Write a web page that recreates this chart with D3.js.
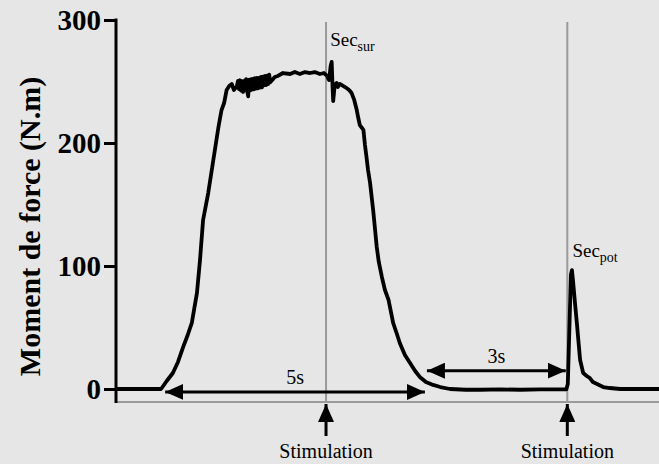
<!DOCTYPE html>
<html>
<head>
<meta charset="utf-8">
<script src="https://cdn.jsdelivr.net/npm/d3@7"></script>
<style>
  html, body { margin: 0; padding: 0; background: #e6e6e6; }
  svg { display: block; }
</style>
</head>
<body>
<svg id="chart" width="659" height="464"></svg>
<script>
// Torque trace: time (s) and moment de force (N.m)
const timeSec = [
  0, 0.88, 0.99, 1.11, 1.21, 1.31, 1.40, 1.48, 1.53, 1.58, 1.64, 1.70, 1.80, 1.90, 2.00, 2.06, 2.11, 2.16, 2.21, 2.26, 2.30, 2.36,
  2.38, 2.40, 2.42, 2.44, 2.46, 2.48, 2.50, 2.52, 2.54, 2.56, 2.58, 2.60, 2.62, 2.64, 2.65, 2.67, 2.69, 2.71, 2.73, 2.75,
  2.77, 2.79, 2.81, 2.83, 2.85, 2.87, 2.89, 2.91, 2.93, 2.95, 2.97, 2.99, 3.01,
  3.05, 3.10, 3.16, 3.26, 3.40, 3.49, 3.59, 3.69, 3.79, 3.88, 3.98, 4.06, 4.12, 4.16, 4.19, 4.21, 4.23, 4.24, 4.27,
  4.31, 4.33, 4.37, 4.44, 4.50, 4.55, 4.60, 4.65, 4.70, 4.73, 4.76, 4.83, 4.86, 4.89, 4.92, 4.96, 5.02, 5.09, 5.13,
  5.19, 5.25, 5.32, 5.41, 5.49, 5.54, 5.64, 5.74, 5.84, 5.93, 6.05, 6.19, 6.33, 6.52, 6.83, 7.11, 7.50, 7.89, 8.28, 8.79,
  8.82, 8.85, 8.88, 8.90, 8.92, 8.96, 9.00, 9.02, 9.06, 9.12, 9.19, 9.25, 9.31, 9.39, 9.51, 9.64, 9.84, 10.23, 10.60
];
const torque = [
  0, 0, 6.5, 13.0, 22.0, 34.1, 43.9, 53.7, 65.9, 78.0, 104.9, 137.4, 159.3, 186.2, 213.0, 226.8, 232.5, 243.1, 246.3, 248.0, 243.1, 246.3,
  250.4, 243.9, 251.0, 242.7, 250.2, 241.5, 250.4, 243.1, 252.0, 242.3, 238.0, 251.6, 242.7, 252.0, 243.5, 252.2, 243.7, 252.8, 244.3, 253.0,
  244.5, 253.0, 245.1, 253.8, 245.3, 254.0, 246.9, 254.6, 247.1, 254.8, 247.9, 255.6, 249.3,
  251.2, 253.7, 254.5, 256.9, 256.1, 257.7, 256.1, 257.7, 256.9, 257.7, 256.1, 256.9, 254.5, 251.2, 262.6, 265.9, 243.1, 234.1, 247.2,
  248.8, 245.5, 248.0, 246.3, 244.7, 243.1, 240.6, 235.0, 226.8, 220.3, 214.6, 210.6, 198.4, 188.6, 178.0, 167.5, 145.5, 115.4, 103.3,
  91.1, 80.5, 72.4, 53.7, 43.9, 37.4, 27.6, 21.1, 14.6, 9.8, 5.7, 3.3, 1.6, 0, -0.6, -0.6, -0.3, -0.6, -0.3, -0.3,
  4.1, 48.0, 92.7, 96.7, 88.6, 69.9, 52.0, 42.3, 23.6, 13.0, 10.6, 8.9, 5.7, 4.1, 1.6, 0.8, 0, 0, 0
];

// Y axis ticks
const yTicks = [0, 100, 200, 300];

// Stimulation times (s) and their peak labels
const stimTimes = [4.10, 8.81];
const stimLabels = ["Stimulation", "Stimulation"];
const peakLabels = [
  { base: "Sec", sub: "sur", t: 4.18, v: 279 },
  { base: "Sec", sub: "pot", t: 8.91, v: 107 }
];

// Duration arrows: start, end, level (N.m) and label
const spanStart = [0.96, 6.07];
const spanEnd = [6.03, 8.78];
const spanLevel = [-2.4, 14.9];
const spanLabels = ["5s", "3s"];

const SERIF = '"Liberation Serif", "Times New Roman", Times, serif';

const svg = d3.select("#chart");
const x = d3.scaleLinear().domain([0, 10.6]).range([116, 659]);
const y = d3.scaleLinear().domain([0, 300]).range([389, 20]);
const frameBottom = y(0) + 13;

// Arrowhead markers
const defs = svg.append("defs");
defs.append("marker")
  .attr("id", "head")
  .attr("viewBox", "0 0 18 16")
  .attr("refX", 18).attr("refY", 8)
  .attr("markerWidth", 18).attr("markerHeight", 16)
  .attr("markerUnits", "userSpaceOnUse")
  .attr("orient", "auto-start-reverse")
  .append("path").attr("d", "M0,0 L18,8 L0,16 Z").attr("fill", "#000");

// Bottom frame line (grey)
svg.append("line")
  .attr("x1", x(0)).attr("x2", 659)
  .attr("y1", frameBottom).attr("y2", frameBottom)
  .attr("stroke", "#9a9a9a").attr("stroke-width", 2);

// Grey vertical markers at stimulation
svg.selectAll(".stim-line").data(stimTimes).join("line")
  .attr("class", "stim-line")
  .attr("x1", d => x(d)).attr("x2", d => x(d))
  .attr("y1", y(300) + 2).attr("y2", frameBottom)
  .attr("stroke", "#9a9a9a").attr("stroke-width", 2);

// Torque trace
const line = d3.line().x((d, i) => x(timeSec[i])).y(d => y(d));
svg.append("path")
  .datum(torque)
  .attr("d", line)
  .attr("fill", "none")
  .attr("stroke", "#000")
  .attr("stroke-width", 3.8)
  .attr("stroke-linejoin", "round");

// Y axis
const yAxis = d3.axisLeft(y).tickValues(yTicks).tickSize(12).tickPadding(3).tickFormat(d3.format("d"));
const gy = svg.append("g").attr("transform", `translate(${x(0)},0)`).call(yAxis);
gy.select(".domain").remove();
gy.append("line")
  .attr("x1", 0).attr("x2", 0)
  .attr("y1", y(300) - 1.5).attr("y2", frameBottom + 1)
  .attr("stroke", "#000").attr("stroke-width", 3);
gy.selectAll(".tick line").attr("stroke", "#000").attr("stroke-width", 3);
gy.selectAll(".tick text")
  .style("font-family", SERIF)
  .style("font-weight", "bold")
  .style("font-size", "29px")
  .attr("dy", "0.34em")
  .attr("fill", "#000");

// Y axis title
svg.append("text")
  .attr("transform", `translate(40,${(y(300) + y(0)) / 2 + 22}) rotate(-90)`)
  .attr("text-anchor", "middle")
  .style("font-family", SERIF)
  .style("font-weight", "bold")
  .style("font-size", "30px")
  .text("Moment de force (N.m)");

// Stimulation arrows and labels
svg.selectAll(".stim-arrow").data(stimTimes).join("line")
  .attr("class", "stim-arrow")
  .attr("x1", d => x(d)).attr("x2", d => x(d))
  .attr("y1", frameBottom + 34).attr("y2", frameBottom + 2)
  .attr("stroke", "#000").attr("stroke-width", 3)
  .attr("marker-end", "url(#head)");
svg.selectAll(".stim-label").data(stimTimes).join("text")
  .attr("class", "stim-label")
  .attr("x", d => x(d)).attr("y", 458)
  .attr("text-anchor", "middle")
  .style("font-family", SERIF)
  .style("font-size", "20px")
  .text((d, i) => stimLabels[i]);

// Peak labels with subscripts
peakLabels.forEach(p => {
  const t = svg.append("text")
    .attr("x", x(p.t)).attr("y", y(p.v))
    .style("font-family", SERIF)
    .style("font-size", "19px");
  t.append("tspan").text(p.base);
  t.append("tspan").style("font-size", "14px").attr("dy", 5).text(p.sub);
});

// Duration arrows
spanStart.forEach((s, i) => {
  svg.append("line")
    .attr("x1", x(s)).attr("x2", x(spanEnd[i]))
    .attr("y1", y(spanLevel[i])).attr("y2", y(spanLevel[i]))
    .attr("stroke", "#000").attr("stroke-width", 3)
    .attr("marker-start", "url(#head)")
    .attr("marker-end", "url(#head)");
  svg.append("text")
    .attr("x", (x(s) + x(spanEnd[i])) / 2).attr("y", y(spanLevel[i]) - 8)
    .attr("text-anchor", "middle")
    .style("font-family", SERIF)
    .style("font-size", "20px")
    .text(spanLabels[i]);
});
</script>
</body>
</html>
